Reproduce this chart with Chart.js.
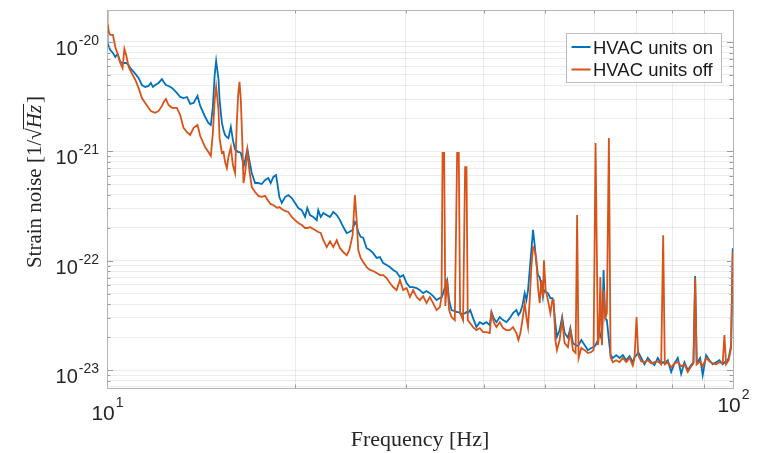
<!DOCTYPE html>
<html>
<head>
<meta charset="utf-8">
<script src="https://cdn.jsdelivr.net/npm/chart.js@4/dist/chart.umd.min.js"></script>
<style>
html,body{margin:0;padding:0;background:#ffffff;}
#c{display:block;}
</style>
</head>
<body>
<canvas id="c" width="758" height="453"></canvas>
<script>
// ---------- data ----------
const freqHz = [
10.0,10.02,10.07,10.12,10.22,10.31,10.40,10.50,10.59,10.66,
10.73,10.83,10.89,10.97,11.10,11.23,11.37,11.51,11.65,11.75,
11.84,11.94,12.09,12.24,12.32,12.42,12.54,12.70,12.93,13.09,
13.25,13.42,13.58,13.75,13.95,14.09,14.35,14.52,14.65,14.76,
14.86,14.94,15.07,15.13,15.26,15.35,15.44,15.54,15.63,15.77,
15.89,16.02,16.12,16.20,16.28,16.36,16.46,16.52,16.62,16.76,
16.88,17.03,17.24,17.45,17.67,17.89,18.10,18.26,18.44,18.62,
18.71,18.85,19.02,19.25,19.48,19.73,19.97,20.21,20.47,20.72,
20.89,21.10,21.36,21.63,21.75,21.95,22.16,22.44,22.71,22.99,
23.28,23.56,23.85,24.15,24.38,24.68,24.89,25.05,25.20,25.42,
25.66,25.99,26.30,26.62,26.96,27.29,27.62,27.97,28.31,28.65,
29.01,29.37,29.73,30.10,30.47,30.84,31.23,31.61,31.99,32.39,
32.79,33.19,33.61,34.02,34.23,34.36,34.56,34.71,34.94,35.20,
35.51,35.94,36.25,36.47,36.65,37.05,37.33,37.52,37.70,38.04,
38.44,38.92,39.40,39.88,40.38,40.87,41.13,41.48,41.89,42.40,
42.92,43.46,43.99,44.52,45.08,45.42,45.75,46.09,46.48,46.77,
47.05,47.34,47.63,47.92,48.22,48.52,48.80,49.11,49.42,49.71,
49.89,50.20,50.63,51.08,51.46,51.70,52.03,52.33,52.85,53.34,
53.83,54.49,54.97,55.50,56.05,56.36,56.67,57.24,57.94,58.64,
59.38,59.88,60.32,60.84,61.13,61.38,61.74,62.12,62.51,62.88,
63.35,63.74,64.28,65.09,65.88,66.69,67.53,68.35,69.18,69.61,
70.13,70.57,71.35,72.22,73.10,74.02,74.92,75.83,76.78,77.35,
77.81,78.67,79.66,80.63,81.62,82.64,83.65,84.67,85.73,86.46,
87.00,87.51,88.61,89.46,90.59,91.69,92.81,93.98,95.12,96.28,
96.89,97.49,98.43,99.30,99.90
];

const strainHvacOn = [
1.43e-20,9.79e-21,9.0e-21,8.45e-21,7.93e-21,7.29e-21,7.76e-21,6.56e-21,6.42e-21,6.42e-21,
6.42e-21,6.16e-21,5.78e-21,5.54e-21,5.10e-21,4.69e-21,4.04e-21,3.88e-21,3.96e-21,4.22e-21,
3.88e-21,4.04e-21,4.22e-21,4.58e-21,4.31e-21,4.04e-21,3.96e-21,3.80e-21,3.42e-21,3.14e-21,
3.07e-21,3.14e-21,2.71e-21,2.77e-21,3.21e-21,2.60e-21,2.06e-21,1.82e-21,1.74e-21,2.55e-21,
4.99e-21,6.70e-21,4.58e-21,2.95e-21,1.82e-21,1.57e-21,1.41e-21,1.35e-21,1.32e-21,1.67e-21,
1.27e-21,1.03e-21,1.01e-21,9.85e-22,9.85e-22,9.65e-22,8.32e-22,7.18e-22,8.32e-22,1.05e-21,
8.32e-22,6.33e-22,5.13e-22,5.13e-22,5.02e-22,5.47e-22,5.70e-22,5.13e-22,5.83e-22,6.07e-22,
5.13e-22,3.82e-22,3.37e-22,3.82e-22,3.98e-22,3.74e-22,3.37e-22,3.03e-22,2.90e-22,2.51e-22,
3.03e-22,2.61e-22,2.51e-22,2.35e-22,2.90e-22,2.51e-22,2.73e-22,2.61e-22,2.51e-22,2.79e-22,
2.61e-22,2.35e-22,2.03e-22,1.79e-22,1.83e-22,1.91e-22,2.26e-22,2.12e-22,1.83e-22,1.65e-22,
1.62e-22,1.30e-22,1.25e-22,1.17e-22,1.06e-22,1.08e-22,9.51e-23,9.12e-23,8.74e-23,8.22e-23,
7.86e-23,7.08e-23,7.38e-23,6.24e-23,5.74e-23,5.74e-23,5.62e-23,5.38e-23,5.05e-23,5.27e-23,
5.05e-23,4.74e-23,4.36e-23,4.55e-23,4.65e-23,4.84e-23,5.38e-23,5.98e-23,6.64e-23,4.36e-23,
3.53e-23,3.46e-23,3.39e-23,3.39e-23,3.31e-23,3.25e-23,3.31e-23,3.39e-23,3.31e-23,3.53e-23,
2.98e-23,2.47e-23,2.74e-23,2.63e-23,2.74e-23,2.57e-23,3.39e-23,2.98e-23,2.74e-23,3.05e-23,
2.86e-23,2.74e-23,2.98e-23,3.31e-23,3.53e-23,3.18e-23,3.39e-23,3.90e-23,5.05e-23,4.36e-23,
5.38e-23,8.22e-23,1.25e-22,1.91e-22,1.39e-22,9.51e-23,7.38e-23,7.08e-23,5.98e-23,4.65e-23,
5.38e-23,5.16e-23,5.05e-23,4.55e-23,4.55e-23,3.90e-23,2.68e-23,2.01e-23,2.32e-23,3.05e-23,
2.18e-23,1.97e-23,2.42e-23,1.76e-23,1.69e-23,1.66e-23,1.69e-23,1.88e-23,1.69e-23,1.52e-23,
1.59e-23,1.62e-23,1.69e-23,1.88e-23,2.32e-23,2.09e-23,1.88e-23,8.22e-23,2.98e-23,2.86e-23,
1.88e-23,1.37e-23,1.29e-23,1.37e-23,1.29e-23,1.37e-23,1.23e-23,1.34e-23,1.18e-23,1.31e-23,
1.37e-23,1.46e-23,1.29e-23,1.13e-23,1.29e-23,1.18e-23,1.11e-23,1.29e-23,1.15e-23,1.18e-23,
1.15e-23,1.23e-23,9.6e-24,1.15e-23,1.29e-23,9.2e-24,1.18e-23,1.0e-23,1.11e-23,1.18e-23,
7.23e-23,1.15e-23,1.29e-23,8.98e-24,1.37e-23,1.23e-23,1.13e-23,1.18e-23,1.23e-23,1.13e-23,
1.18e-23,1.15e-23,1.29e-23,1.69e-23,1.30e-22
];

const strainHvacOff = [
1.92e-20,1.49e-20,1.23e-20,1.16e-20,1.16e-20,9.0e-21,7.76e-21,6.42e-21,5.78e-21,8.63e-21,
7.6e-21,5.91e-21,5.54e-21,5.10e-21,4.49e-21,3.80e-21,3.07e-21,2.77e-21,2.50e-21,2.34e-21,
2.29e-21,2.25e-21,2.34e-21,2.60e-21,2.83e-21,3.01e-21,2.65e-21,2.50e-21,2.50e-21,2.15e-21,
1.64e-21,1.50e-21,1.41e-21,1.64e-21,1.74e-21,1.38e-21,1.09e-21,9.85e-22,9.06e-22,1.47e-21,
2.95e-21,3.88e-21,2.39e-21,1.32e-21,9.65e-22,9.85e-22,7.98e-22,7.04e-22,8.87e-22,1.09e-21,
7.49e-22,6.33e-22,1.82e-21,3.27e-21,4.31e-21,2.95e-21,1.09e-21,5.13e-22,6.33e-22,1.01e-21,
6.74e-22,4.72e-22,4.24e-22,3.91e-22,3.83e-22,3.91e-22,3.51e-22,3.29e-22,3.23e-22,3.10e-22,
3.04e-22,3.10e-22,2.97e-22,2.85e-22,2.79e-22,2.51e-22,2.35e-22,2.21e-22,2.12e-22,1.99e-22,
1.99e-22,2.03e-22,1.95e-22,1.87e-22,1.83e-22,1.79e-22,1.54e-22,1.33e-22,1.50e-22,1.33e-22,
1.54e-22,1.30e-22,1.20e-22,1.12e-22,1.25e-22,1.71e-22,3.99e-22,2.35e-22,1.25e-22,1.06e-22,
9.71e-23,8.74e-23,8.22e-23,8.05e-23,7.70e-23,7.38e-23,7.38e-23,6.93e-23,6.24e-23,5.74e-23,
5.38e-23,6.64e-23,5.38e-23,5.62e-23,4.65e-23,5.38e-23,4.65e-23,4.36e-23,4.74e-23,4.09e-23,
4.65e-23,4.09e-23,3.53e-23,3.76e-23,4.65e-23,9.65e-22,9.65e-22,3.85e-23,6.64e-23,3.53e-23,
3.05e-23,2.86e-23,9.65e-22,9.65e-22,3.31e-23,2.86e-23,7.18e-22,7.18e-22,2.86e-23,2.68e-23,
2.47e-23,2.32e-23,2.42e-23,2.22e-23,2.22e-23,2.18e-23,3.31e-23,2.74e-23,2.47e-23,2.74e-23,
2.42e-23,2.32e-23,2.32e-23,2.47e-23,2.18e-23,1.88e-23,2.18e-23,2.86e-23,4.09e-23,3.05e-23,
2.47e-23,4.36e-23,8.74e-23,1.33e-22,1.25e-22,1.01e-22,5.74e-23,4.09e-23,6.64e-23,4.65e-23,
1.01e-22,5.38e-23,4.36e-23,3.31e-23,4.36e-23,4.36e-23,1.88e-23,1.52e-23,1.88e-23,2.86e-23,
1.76e-23,1.62e-23,2.32e-23,1.52e-23,1.43e-23,2.61e-22,1.29e-23,1.59e-23,1.52e-23,1.43e-23,
1.46e-23,1.52e-23,1.19e-21,1.69e-23,2.09e-23,7.08e-23,1.69e-23,5.38e-23,2.98e-23,3.31e-23,
1.32e-21,1.31e-23,1.18e-23,1.23e-23,1.18e-23,1.29e-23,1.18e-23,1.29e-23,1.10e-23,1.29e-23,
3.05e-23,1.37e-23,1.20e-23,1.18e-23,1.23e-23,1.15e-23,1.18e-23,1.20e-23,1.13e-23,1.71e-22,
1.13e-23,1.18e-23,1.06e-23,1.15e-23,1.18e-23,1.08e-23,1.13e-23,9.6e-24,1.08e-23,1.15e-23,
6.93e-23,1.13e-23,1.20e-23,1.08e-23,1.29e-23,1.20e-23,1.15e-23,1.13e-23,1.18e-23,1.15e-23,
2.09e-23,1.13e-23,1.23e-23,1.59e-23,1.20e-22
];

const seriesLabels = ['HVAC units on', 'HVAC units off'];
const xTickValues = [10, 100];
const xTickExponents = ['1', '2'];
const yTickValues = [1e-20, 1e-21, 1e-22, 1e-23];
const yTickExponents = ['-20', '-21', '-22', '-23'];
const xAxisTitle = 'Frequency [Hz]';
const yAxisTitleParts = ['Strain noise [1/', '\u221A', 'Hz', ']'];

// ---------- styling ----------
const COLOR_ON = '#0072BD';
const COLOR_OFF = '#D95319';
const TEXT = '#262626';
const SANS = '"Liberation Sans", Arial, Helvetica, sans-serif';
const SERIF = '"Liberation Serif", "Times New Roman", serif';

function isDecade(v){ const l = Math.log10(v); return Math.abs(l - Math.round(l)) < 1e-6; }
function logTicks(min, max){
  const out = [];
  for (let e = Math.floor(Math.log10(min)); e <= Math.ceil(Math.log10(max)); e++){
    for (let m = 1; m <= 9; m++){
      const v = m * Math.pow(10, e);
      if (v >= min * 0.999999 && v <= max * 1.000001) out.push({value: v});
    }
  }
  return out;
}

const decor = {
  id: 'decor',
  afterDraw(chart){
    const {ctx, chartArea: a, scales: {x, y}} = chart;
    ctx.save();
    // inward tick marks
    ctx.strokeStyle = '#9a9a9a';
    ctx.lineWidth = 1;
    ctx.beginPath();
    y.ticks.forEach(t => {
      const p = Math.round(y.getPixelForValue(t.value)) + 0.5;
      if (p < a.top + 1 || p > a.bottom - 1) return;
      const len = isDecade(t.value) ? 6 : 3.5;
      ctx.moveTo(a.left, p); ctx.lineTo(a.left + len, p);
      ctx.moveTo(a.right, p); ctx.lineTo(a.right - len, p);
    });
    x.ticks.forEach(t => {
      const p = Math.round(x.getPixelForValue(t.value)) + 0.5;
      if (p < a.left + 1 || p > a.right - 1) return;
      const len = isDecade(t.value) ? 6 : 3.5;
      ctx.moveTo(p, a.bottom); ctx.lineTo(p, a.bottom - len);
      ctx.moveTo(p, a.top); ctx.lineTo(p, a.top + len);
    });
    ctx.stroke();
    // frame
    ctx.strokeStyle = '#b4b4b4';
    ctx.strokeRect(Math.round(a.left) + 0.5, Math.round(a.top) + 0.5,
                   Math.round(a.right - a.left), Math.round(a.bottom - a.top));

    // y tick labels 10^n
    ctx.fillStyle = TEXT;
    ctx.textBaseline = 'alphabetic';
    ctx.textAlign = 'left';
    yTickValues.forEach((v, i) => {
      const p = y.getPixelForValue(v);
      ctx.font = '20px ' + SANS;
      const wb = ctx.measureText('10').width;
      ctx.font = '14px ' + SANS;
      const we = ctx.measureText(yTickExponents[i]).width;
      const x0 = a.left - 9 - wb - we;
      ctx.font = '20px ' + SANS;
      ctx.fillText('10', x0, p + 13);
      ctx.font = '14px ' + SANS;
      ctx.fillText(yTickExponents[i], x0 + wb + 1, p + 3);
    });
    // x tick labels 10^n
    const xBase = [420, 411.5];
    xTickValues.forEach((v, i) => {
      const p = x.getPixelForValue(v);
      ctx.font = '21px ' + SANS;
      const wb = ctx.measureText('10').width;
      ctx.font = '14px ' + SANS;
      const we = ctx.measureText(xTickExponents[i]).width;
      const x0 = p - (wb + we) / 2;
      ctx.font = '21px ' + SANS;
      ctx.fillText('10', x0, xBase[i]);
      ctx.font = '14px ' + SANS;
      ctx.fillText(xTickExponents[i], x0 + wb + 1, xBase[i] - 13);
    });

    // x axis title
    ctx.font = '22px ' + SERIF;
    ctx.textAlign = 'center';
    ctx.fillText(xAxisTitle, 420, 446);

    // y axis title (rotated)
    ctx.save();
    ctx.translate(41, 182);
    ctx.rotate(-Math.PI / 2);
    ctx.textAlign = 'left';
    const fs = 21;
    const fonts = [fs + 'px ' + SERIF, fs + 'px ' + SERIF, 'italic ' + fs + 'px ' + SERIF, fs + 'px ' + SERIF];
    const widths = yAxisTitleParts.map((s, i) => { ctx.font = fonts[i]; return ctx.measureText(s).width; });
    const total = widths.reduce((s, w) => s + w, 0) + 2;
    let xx = -total / 2;
    yAxisTitleParts.forEach((s, i) => {
      ctx.font = fonts[i];
      ctx.fillText(s, xx, 0);
      if (i === 2) {
        ctx.strokeStyle = TEXT; ctx.lineWidth = 1;
        ctx.beginPath();
        ctx.moveTo(xx - 1, -17.5); ctx.lineTo(xx + widths[i] + 1, -17.5);
        ctx.stroke();
        xx += 2;
      }
      xx += widths[i];
    });
    ctx.restore();

    // legend
    const lx = 566.5, ly = 33.5, lw = 155, lh = 49;
    ctx.fillStyle = '#ffffff';
    ctx.fillRect(lx, ly, lw, lh);
    ctx.strokeStyle = '#bdbdbd'; ctx.lineWidth = 1;
    ctx.strokeRect(lx, ly, lw, lh);
    const rows = [{c: COLOR_ON, t: seriesLabels[0], y: 47}, {c: COLOR_OFF, t: seriesLabels[1], y: 69.5}];
    rows.forEach(r => {
      ctx.strokeStyle = r.c; ctx.lineWidth = 2;
      ctx.beginPath(); ctx.moveTo(571.5, r.y); ctx.lineTo(590.5, r.y); ctx.stroke();
      ctx.fillStyle = '#1a1a1a';
      ctx.font = '18.5px ' + SANS;
      ctx.textAlign = 'left';
      ctx.fillText(r.t, 593, r.y + 6.5);
    });
    ctx.restore();
  }
};

const gridColor = 'rgba(0,0,0,0.075)';

new Chart(document.getElementById('c').getContext('2d'), {
  type: 'line',
  data: {
    datasets: [
      {label: seriesLabels[0], data: freqHz.map((f, i) => ({x: f, y: strainHvacOn[i]})),
       borderColor: COLOR_ON, backgroundColor: COLOR_ON, borderWidth: 1.8, pointRadius: 0, tension: 0, order: 1},
      {label: seriesLabels[1], data: freqHz.map((f, i) => ({x: f, y: strainHvacOff[i]})),
       borderColor: COLOR_OFF, backgroundColor: COLOR_OFF, borderWidth: 1.8, pointRadius: 0, tension: 0, order: 0}
    ]
  },
  options: {
    responsive: false,
    animation: false,
    devicePixelRatio: 1,
    layout: {padding: {left: 0, right: 25, top: 10, bottom: 0}},
    plugins: {legend: {display: false}, tooltip: {enabled: false}, title: {display: false}},
    scales: {
      x: {
        type: 'logarithmic', min: 10, max: 100,
        afterBuildTicks(s){ s.ticks = logTicks(10, 100); },
        afterFit(s){ s.height = 65; },
        ticks: {display: false},
        grid: {color: gridColor, drawTicks: false, lineWidth: 1},
        border: {display: false}
      },
      y: {
        type: 'logarithmic', min: 6.85e-24, max: 1.96e-20,
        afterBuildTicks(s){ s.ticks = logTicks(6.85e-24, 1.96e-20); },
        afterFit(s){ s.width = 107; },
        ticks: {display: false},
        grid: {color: gridColor, drawTicks: false, lineWidth: 1},
        border: {display: false}
      }
    }
  },
  plugins: [decor]
});
</script>
</body>
</html>
